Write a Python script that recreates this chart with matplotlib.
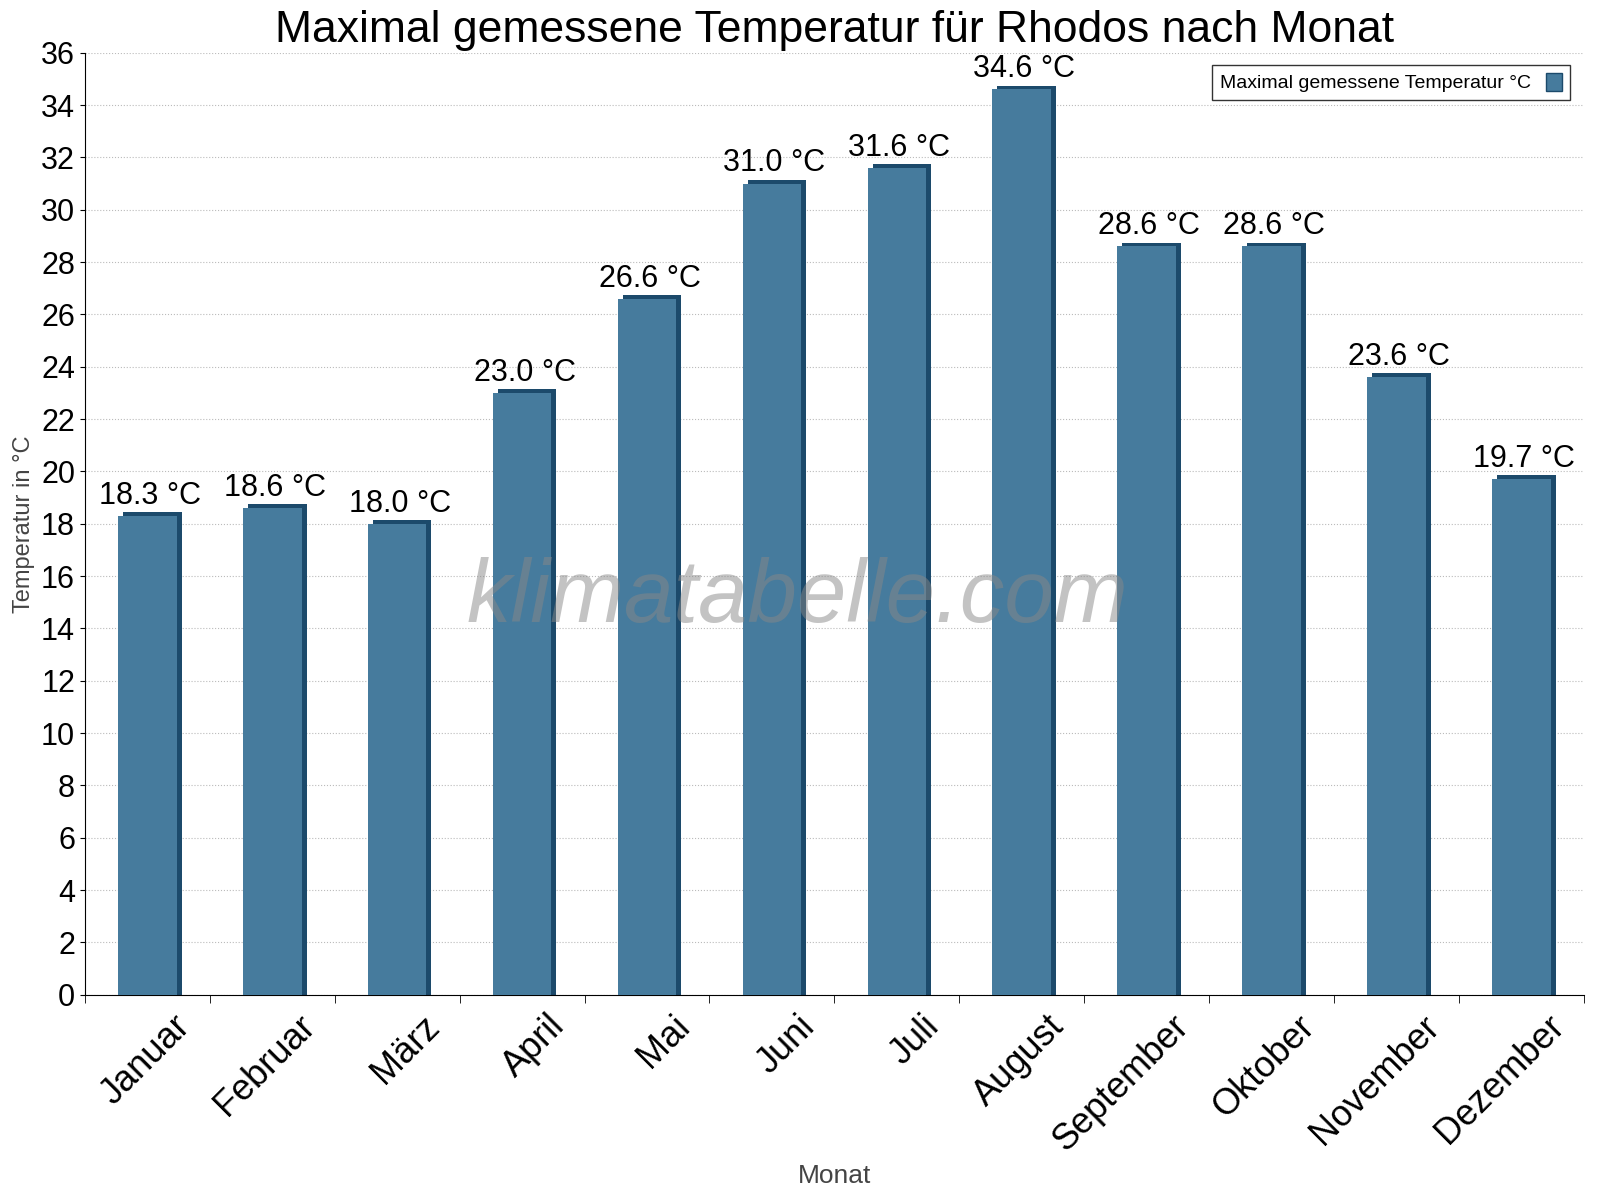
import matplotlib
matplotlib.use("Agg")
import matplotlib.pyplot as plt
import numpy as np
plt.rcParams["font.family"] = "Liberation Sans"

months = ["Januar","Februar","März","April","Mai","Juni","Juli","August","September","Oktober","November","Dezember"]
values = [18.3,18.6,18.0,23.0,26.6,31.0,31.6,34.6,28.6,28.6,23.6,19.7]
yticks = list(range(0,37,2))

fig = plt.figure(figsize=(16,12), dpi=100)
ax = fig.add_axes([0.053,0.171,0.937,0.785])
x = np.arange(len(months))
front = "#467b9d"; dark = "#1c4a6b"
ax.bar(x+0.04, np.array(values)+0.15, width=0.47, bottom=0, color=dark, zorder=2)
ax.bar(x, values, width=0.47, color=front, zorder=3)
for xi, v in zip(x, values):
    ax.text(xi+0.02, v+0.2, f"{v:.1f} °C", ha="center", va="bottom", fontsize=22, zorder=4)

ax.set_xlim(-0.5, 11.5)
ax.set_ylim(0, 36)
ax.set_yticks(yticks)
ax.tick_params(axis="y", labelsize=22)
ax.set_xticks(x+0.2)
ax.set_xticklabels(months, rotation=45, ha="right", rotation_mode="anchor", fontsize=26)
ax.tick_params(axis="x", length=0, pad=10)
ax.set_xticks(np.arange(-0.5, 12, 1), minor=True)
ax.tick_params(axis="x", which="minor", length=6)
ax.yaxis.grid(True, linestyle=":", color="#bbbbbb", zorder=0)
for s in ["top","right"]:
    ax.spines[s].set_visible(False)
ax.set_ylabel("Temperatur in °C", fontsize=17, color="#444444", labelpad=4)
ax.set_xlabel("Monat", fontsize=19, color="#444444")
ax.xaxis.set_label_coords(0.5, -0.18)
ax.set_title("Maximal gemessene Temperatur für Rhodos nach Monat", fontsize=32, pad=8)
ax.text(0.475, 0.42, "klimatabelle.com", transform=ax.transAxes, fontsize=64, style="italic",
        fontweight="light", color="#888888", alpha=0.5, ha="center", va="center", zorder=5)
from matplotlib.patches import Patch
ax.legend([Patch(facecolor=front, edgecolor=dark)], ["Maximal gemessene Temperatur °C"],
          loc="upper right", fontsize=14, fancybox=False, edgecolor="black",
          markerfirst=False, handlelength=0.8, handleheight=1.0, bbox_to_anchor=(0.997, 0.997))
fig.savefig("out.png")
